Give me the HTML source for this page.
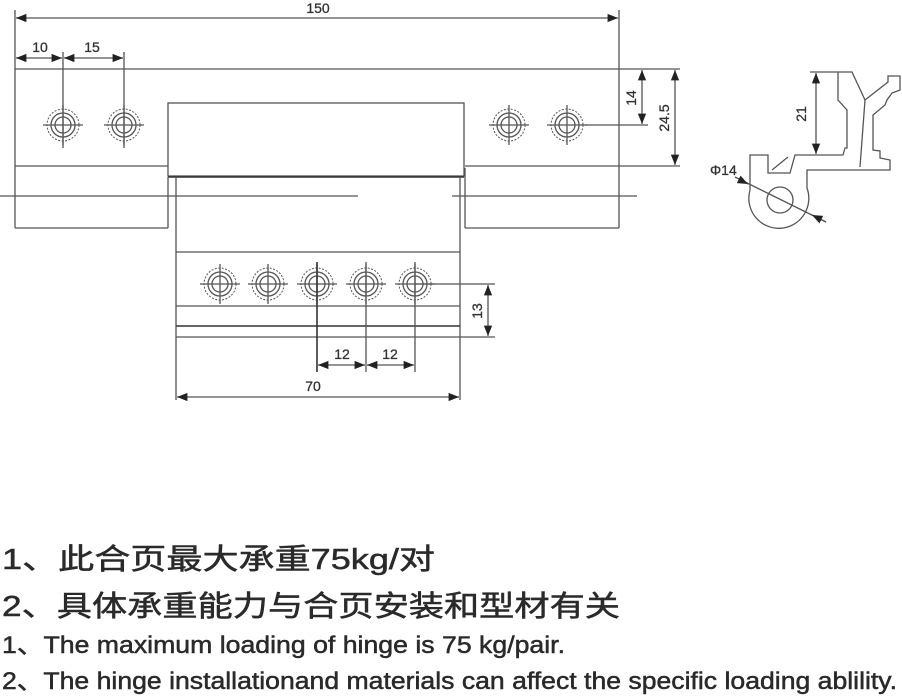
<!DOCTYPE html>
<html><head><meta charset="utf-8"><style>
html,body{margin:0;padding:0;background:#fff;}
svg{display:block;}
.l{stroke:#555;stroke-width:1.3;fill:none;}
.t{stroke:#333;stroke-width:1.6;fill:none;}
.d{stroke:#555;stroke-width:1;fill:none;stroke-dasharray:2 1.5;}
.n{font-family:"Liberation Sans",sans-serif;font-size:14px;fill:#333;stroke:#333;stroke-width:0.3;}
.cn{font-family:"Liberation Sans","Noto Sans CJK SC",sans-serif;fill:#2a2a2a;stroke:#2a2a2a;stroke-width:0.5;}
</style></head><body>
<svg width="902" height="697" viewBox="0 0 902 697" xmlns="http://www.w3.org/2000/svg">
<defs>
<marker id="a" viewBox="0 0 10 10" refX="10" refY="5" markerWidth="8" markerHeight="8" orient="auto-start-reverse"><path d="M0,1 L10,5 L0,9 z" fill="#222"/></marker>
<g id="h"><circle r="16" class="d"/><circle r="12" class="l" stroke-width="1"/><circle r="8" class="l" stroke-width="1"/><path d="M-20,0 H20 M0,-20 V20" class="l" stroke-width="0.9"/></g>
</defs>
<line x1="15" y1="10" x2="15" y2="228" class="l"/>
<line x1="619" y1="10" x2="619" y2="228" class="l"/>
<line x1="16" y1="18" x2="618" y2="18" class="l" marker-start="url(#a)" marker-end="url(#a)"/>
<text x="318" y="13" class="n" text-anchor="middle">150</text>
<line x1="16" y1="58" x2="62" y2="58" class="l" marker-start="url(#a)" marker-end="url(#a)"/>
<line x1="64" y1="58" x2="123" y2="58" class="l" marker-start="url(#a)" marker-end="url(#a)"/>
<text x="40" y="52" class="n" text-anchor="middle">10</text>
<text x="92" y="52" class="n" text-anchor="middle">15</text>
<line x1="63" y1="52" x2="63" y2="148" class="l"/>
<line x1="124" y1="52" x2="124" y2="148" class="l"/>
<line x1="15" y1="69" x2="680" y2="69" class="l"/>
<line x1="15" y1="166" x2="168" y2="166" class="l"/>
<line x1="465" y1="166" x2="680" y2="166" class="l"/>
<line x1="15" y1="228" x2="168" y2="228" class="l"/>
<line x1="465" y1="228" x2="619" y2="228" class="l"/>
<line x1="0" y1="196" x2="358" y2="196" class="l"/>
<line x1="452" y1="196" x2="637" y2="196" class="l"/>
<rect x="168" y="103" width="296" height="73" class="l"/>
<line x1="168" y1="177" x2="464" y2="177" class="t"/>
<line x1="168" y1="177" x2="168" y2="228" class="l"/>
<line x1="465" y1="168" x2="465" y2="228" class="l"/>
<line x1="176" y1="177" x2="176" y2="400" class="l"/>
<line x1="460" y1="177" x2="460" y2="400" class="l"/>
<use href="#h" x="63" y="125"/><use href="#h" x="124" y="125"/>
<use href="#h" x="509" y="125"/><use href="#h" x="567" y="125"/>
<line x1="585" y1="125" x2="648" y2="125" class="l"/>
<line x1="642" y1="70" x2="642" y2="124" class="l" marker-start="url(#a)" marker-end="url(#a)"/>
<line x1="675" y1="70" x2="675" y2="165" class="l" marker-start="url(#a)" marker-end="url(#a)"/>
<text class="n" transform="translate(636,98) rotate(-90)" text-anchor="middle">14</text>
<text class="n" transform="translate(669,118) rotate(-90)" text-anchor="middle">24.5</text>
<line x1="176" y1="252" x2="460" y2="252" class="l"/>
<line x1="176" y1="306" x2="460" y2="306" class="l"/>
<line x1="176" y1="326" x2="460" y2="326" class="t"/>
<line x1="176" y1="337" x2="495" y2="337" class="l"/>
<use href="#h" x="220" y="284"/><use href="#h" x="268" y="284"/><use href="#h" x="317" y="284"/><use href="#h" x="366" y="284"/><use href="#h" x="415" y="284"/>
<line x1="415" y1="284" x2="495" y2="284" class="l"/>
<line x1="488" y1="285" x2="488" y2="336" class="l" marker-start="url(#a)" marker-end="url(#a)"/>
<text class="n" transform="translate(482,311) rotate(-90)" text-anchor="middle">13</text>
<line x1="317" y1="262" x2="317" y2="372" class="t" stroke-width="1.3"/>
<line x1="366" y1="262" x2="366" y2="372" class="l"/>
<line x1="415" y1="262" x2="415" y2="372" class="l"/>
<line x1="318" y1="365" x2="365" y2="365" class="l" marker-start="url(#a)" marker-end="url(#a)"/>
<line x1="367" y1="365" x2="414" y2="365" class="l" marker-start="url(#a)" marker-end="url(#a)"/>
<text x="342" y="359" class="n" text-anchor="middle">12</text>
<text x="390" y="359" class="n" text-anchor="middle">12</text>
<line x1="177" y1="397" x2="459" y2="397" class="l" marker-start="url(#a)" marker-end="url(#a)"/>
<text x="313" y="391" class="n" text-anchor="middle">70</text>
<!-- profile -->
<path class="l" d="M810,72 H852 L865,100 L888,82 V76 H900 V90 L892,93 L887,100 L885,105 L873,115 V150 L880,151 V158 L890,160 V170 H807 V188 A30,30 0 1,1 750,190 V155 H768 V173 H790 L795,155 H843 L845,148 H847 V110 L838,100 V72"/>
<path class="l" d="M865,100 L860,167"/>
<path class="l" d="M772,170 L788,157"/>
<circle cx="780" cy="200" r="13" class="l"/>
<line x1="816" y1="73" x2="816" y2="154" class="l" marker-start="url(#a)" marker-end="url(#a)"/>
<text class="n" transform="translate(806,114) rotate(-90)" text-anchor="middle">21</text>
<line x1="735" y1="177" x2="826" y2="222" class="l"/>
<line x1="740" y1="180" x2="748" y2="184" class="l" marker-end="url(#a)"/>
<line x1="826" y1="222" x2="812" y2="215" class="l" marker-end="url(#a)"/>
<text x="710" y="175" class="n" stroke-width="0">Φ14</text>
<text x="2" y="569" class="cn" font-size="29" textLength="433" lengthAdjust="spacingAndGlyphs">1、此合页最大承重75kg/对</text>
<text x="2" y="616" class="cn" font-size="29" textLength="618" lengthAdjust="spacingAndGlyphs">2、具体承重能力与合页安装和型材有关</text>
<text x="2" y="653" class="cn" font-size="24" textLength="563" lengthAdjust="spacingAndGlyphs">1、The maximum loading of hinge is 75 kg/pair.</text>
<text x="2" y="689" class="cn" font-size="24" textLength="895" lengthAdjust="spacingAndGlyphs">2、The hinge installationand materials can affect the specific loading ablility.</text>
</svg>
</body></html>
